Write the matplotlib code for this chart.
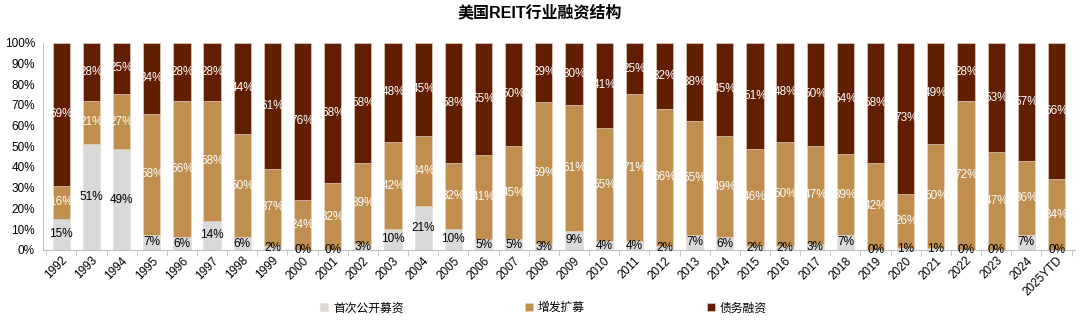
import matplotlib
matplotlib.use("Agg")
import matplotlib.pyplot as plt
import numpy as np

plt.rcParams["font.family"] = ["Liberation Sans", "Noto Sans CJK SC", "DejaVu Sans"]

years = ["1992", "1993", "1994", "1995", "1996", "1997", "1998", "1999", "2000",
         "2001", "2002", "2003", "2004", "2005", "2006", "2007", "2008", "2009",
         "2010", "2011", "2012", "2013", "2014", "2015", "2016", "2017", "2018",
         "2019", "2020", "2021", "2022", "2023", "2024", "2025YTD"]
ipo = [15, 51, 49, 7, 6, 14, 6, 2, 0, 0, 3, 10, 21, 10, 5, 5, 3, 9,
       4, 4, 2, 7, 6, 2, 2, 3, 7, 0, 1, 1, 0, 0, 7, 0]
follow_on = [16, 21, 27, 58, 66, 58, 50, 37, 24, 32, 39, 42, 34, 32, 41, 45, 69, 61,
             55, 71, 66, 55, 49, 46, 50, 47, 39, 42, 26, 50, 72, 47, 36, 34]
debt = [69, 28, 25, 34, 28, 28, 44, 61, 76, 68, 58, 48, 45, 58, 55, 50, 29, 30,
        41, 25, 32, 38, 45, 51, 48, 50, 54, 58, 73, 49, 28, 53, 57, 66]

series = [
    ("首次公开募资", ipo, "#D9D9D9", "black"),
    ("增发扩募", follow_on, "#C08E4E", "white"),
    ("债务融资", debt, "#621E00", "white"),
]


def main():
    total = np.array(ipo) + np.array(follow_on) + np.array(debt)
    x = np.arange(len(years))

    fig = plt.figure(figsize=(10.8, 3.21), dpi=100)
    ax = fig.add_axes([0.040, 0.222, 0.955, 0.645])

    bottom = np.zeros(len(years))
    for name, vals, color, tcolor in series:
        share = np.array(vals) / total * 100
        ax.bar(x, share, width=0.57, bottom=bottom, color=color, label=name,
               edgecolor="#E8D8C8", linewidth=0.4)
        for xi, b, s, v in zip(x, bottom, share, vals):
            ax.text(xi, b + s / 2, f"{v}%", ha="center", va="center",
                    fontsize=8.5, color=tcolor)
        bottom += share

    ax.set_ylim(0, 100)
    ax.set_xlim(-0.6, len(years) - 0.4)
    ax.set_yticks(range(0, 101, 10))
    ax.set_yticklabels([f"{v}%" for v in range(0, 101, 10)], fontsize=8.5)
    ax.set_xticks(x)
    ax.set_xticklabels(years, rotation=45, ha="right", rotation_mode="anchor",
                       fontsize=8.5)
    ax.set_xticks(np.arange(-0.5, len(years), 1), minor=True)
    ax.tick_params(axis="x", which="major", length=0)
    ax.tick_params(axis="x", which="minor", length=4, color="#BFBFBF")
    ax.tick_params(axis="y", length=0, pad=6)
    for side in ["top", "right"]:
        ax.spines[side].set_visible(False)
    ax.spines["left"].set_color("#BFBFBF")
    ax.spines["bottom"].set_color("#BFBFBF")

    fig.text(0.5, 0.962, "美国REIT行业融资结构", ha="center", va="center",
             fontsize=11.5, fontweight="bold")
    fig.legend(loc="center", bbox_to_anchor=(0.503, 0.04), ncol=3, frameon=False,
               fontsize=8.5, handlelength=0.7, handleheight=0.7,
               handletextpad=0.4, columnspacing=10.3)

    fig.savefig("out.png", dpi=100)


if __name__ == "__main__":
    main()
